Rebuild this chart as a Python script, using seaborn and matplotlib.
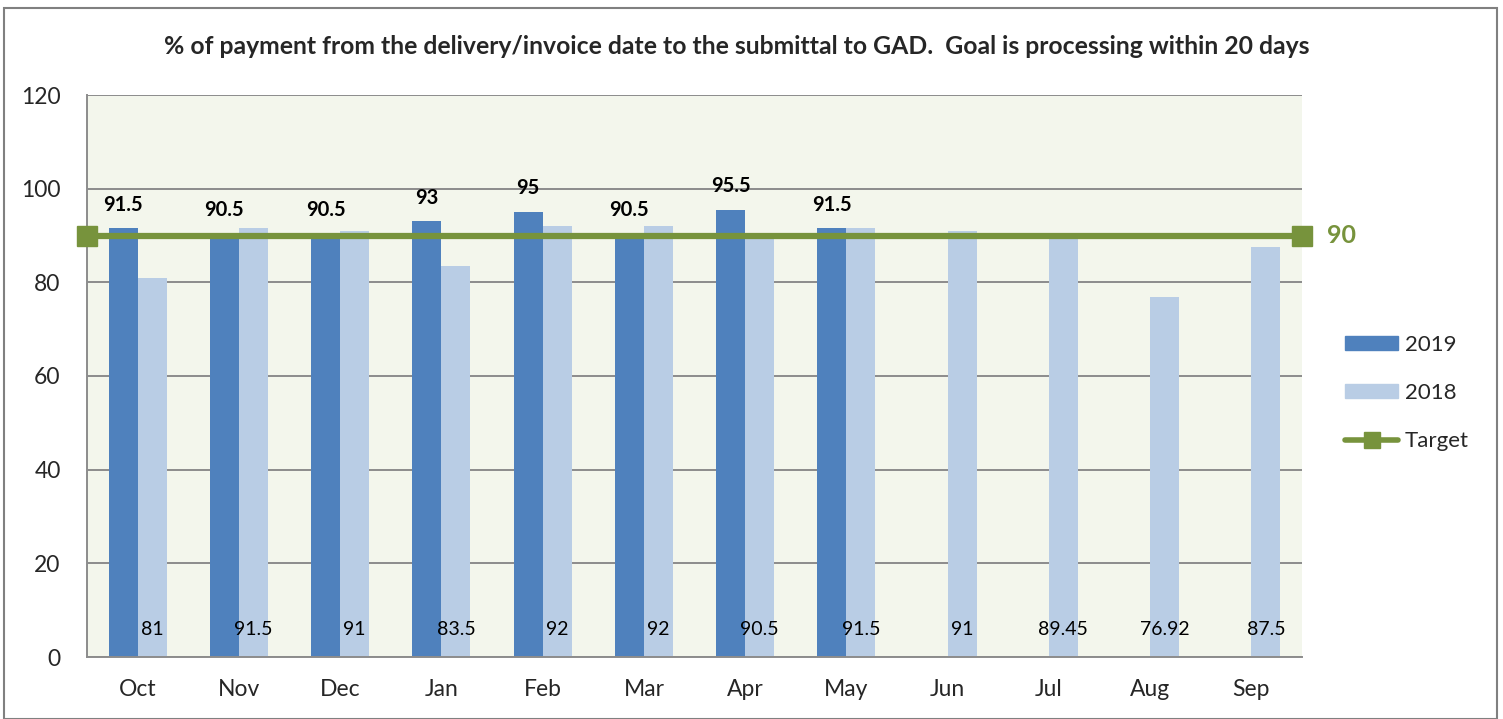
import numpy as np
import pandas as pd
import seaborn as sns
import matplotlib.pyplot as plt
from matplotlib.patches import Rectangle
from matplotlib.lines import Line2D
from matplotlib.patches import Patch

# data
months = ['Oct', 'Nov', 'Dec', 'Jan', 'Feb', 'Mar', 'Apr', 'May', 'Jun', 'Jul', 'Aug', 'Sep']
vals_2019 = [91.5, 90.5, 90.5, 93, 95, 90.5, 95.5, 91.5, np.nan, np.nan, np.nan, np.nan]
vals_2018 = [81, 91.5, 91, 83.5, 92, 92, 90.5, 91.5, 91, 89.45, 76.92, 87.5]
labels_2018 = ['81', '91.5', '91', '83.5', '92', '92', '90.5', '91.5', '91', '89.45', '76.92', '87.5']
target = 90

blue_dark = '#4F81BD'
blue_light = '#B9CDE5'
green = '#77933C'

df = pd.DataFrame({
    'month': months * 2,
    'value': vals_2019 + vals_2018,
    'year': ['2019'] * len(months) + ['2018'] * len(months),
})

sns.set_style('white')
plt.rcParams['font.family'] = ['Lato', 'DejaVu Sans']

fig = plt.figure(figsize=(15.03, 7.19), dpi=100)
ax = fig.add_axes([87 / 1503, 1 - 657 / 719, (1302 - 87) / 1503, (657 - 95) / 719])
ax.set_facecolor('#F3F6EC')

sns.barplot(data=df, x='month', y='value', hue='year', hue_order=['2019', '2018'],
            palette=[blue_dark, blue_light], width=0.575, gap=0, saturation=1,
            order=months, ax=ax, legend=False, zorder=2, linewidth=0)

# labels: 2019 above bars (bold), 2018 near the bottom
c2019, c2018 = ax.containers[0], ax.containers[1]
for bar, v in zip(c2019, vals_2019):
    if np.isnan(v):
        continue
    ax.annotate(f'{v:g}', (bar.get_x() + bar.get_width() / 2, v), xytext=(0, 17),
                textcoords='offset points', ha='center', va='center',
                fontsize=14.5, fontweight='bold', color='black', zorder=5)
for bar, lab in zip(c2018, labels_2018):
    ax.text(bar.get_x() + bar.get_width() / 2, 5.8, lab, ha='center', va='center',
            fontsize=14, color='black', zorder=5)

# target line spanning the full plot width
n = len(months)
ax.plot([-0.5, n - 0.5], [target, target], color=green, lw=4.5, marker='s',
        markersize=14, clip_on=False, zorder=4)
ax.text(n - 0.5 + 0.25, target, f'{target}', color=green, fontsize=18,
        fontweight='bold', va='center', ha='left')

ax.set_xlim(-0.5, n - 0.5)
ax.set_ylim(0, 120)
ax.set_yticks(range(0, 121, 20))
ax.yaxis.grid(True, color='#8C8C8C', lw=1.4, zorder=0)
ax.set_axisbelow(True)
ax.set_xticks(np.arange(n))
ax.set_xticklabels(months)
ax.set_xticks(np.arange(-0.5, n, 1), minor=True)
ax.tick_params(axis='x', which='major', length=0, pad=16, labelsize=16.5)
ax.tick_params(axis='x', which='minor', length=8, width=1.4, color='#8C8C8C', direction='out')
ax.tick_params(axis='y', length=8, width=1.4, color='#8C8C8C', direction='out', pad=11, labelsize=16.5)
ax.set_xlabel('')
ax.set_ylabel('')
for side in ['top', 'right']:
    ax.spines[side].set_visible(False)
for side in ['left', 'bottom']:
    ax.spines[side].set_color('#8C8C8C')
    ax.spines[side].set_linewidth(1.4)

fig.text(0.49, 1 - 47 / 719,
         '% of payment from the delivery/invoice date to the submittal to GAD.  Goal is processing within 20 days',
         ha='center', va='center', fontsize=17.8, fontweight='bold')

handles = [Patch(color=blue_dark, label='2019'), Patch(color=blue_light, label='2018'),
           Line2D([], [], color=green, lw=4, marker='s', markersize=11.5, label='Target')]
fig.legend(handles=handles, loc='center left', bbox_to_anchor=(1325 / 1503, 1 - 393 / 719),
           frameon=False, fontsize=16, handlelength=2.4, handleheight=0.6,
           labelspacing=1.27, handletextpad=0.3)

fig.patches.append(Rectangle((4 / 1503, 0), 1493 / 1503, 1 - 8 / 719, transform=fig.transFigure,
                             fill=False, edgecolor='#808080', lw=1.5))

fig.savefig('out.png', dpi=100)
